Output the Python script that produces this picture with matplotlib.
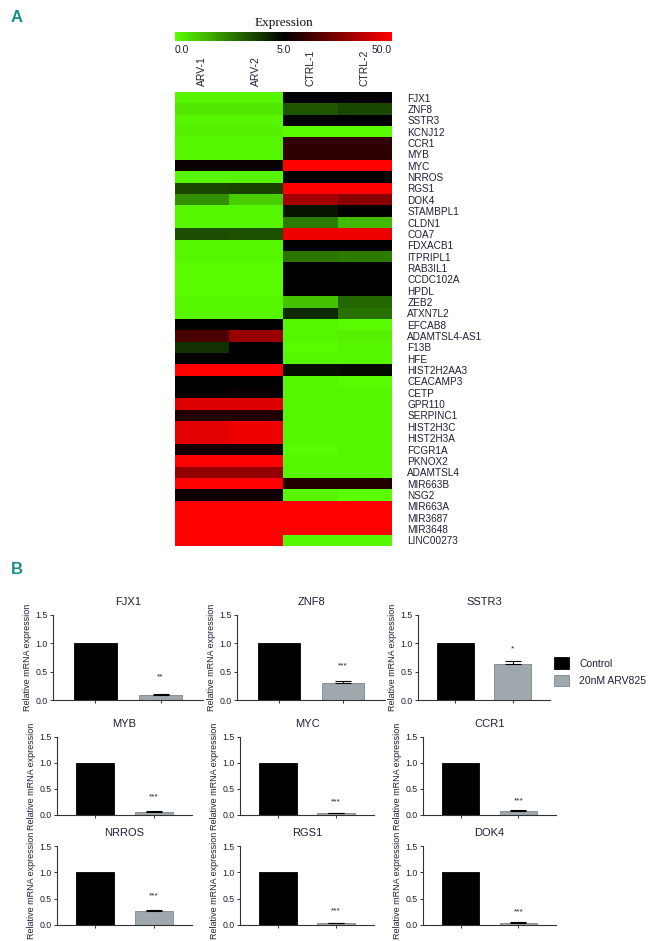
import matplotlib
matplotlib.use("Agg")
import matplotlib.pyplot as plt
import numpy as np
from matplotlib.colors import LinearSegmentedColormap, TwoSlopeNorm

# ---------------- data ----------------
samples = ["ARV-1", "ARV-2", "CTRL-1", "CTRL-2"]
genes = ["FJX1", "ZNF8", "SSTR3", "KCNJ12", "CCR1", "MYB", "MYC", "NRROS", "RGS1", "DOK4",
         "STAMBPL1", "CLDN1", "COA7", "FDXACB1", "ITPRIPL1", "RAB3IL1", "CCDC102A", "HPDL",
         "ZEB2", "ATXN7L2", "EFCAB8", "ADAMTSL4-AS1", "F13B", "HFE", "HIST2H2AA3", "CEACAMP3",
         "CETP", "GPR110", "SERPINC1", "HIST2H3C", "HIST2H3A", "FCGR1A", "PKNOX2", "ADAMTSL4",
         "MIR663B", "NSG2", "MIR663A", "MIR3687", "MIR3648", "LINC00273"]
arv1 = [0.2, 0.5, 0.2, 0.3, 0.2, 0.2, 6.5, 0.2, 3.6, 2.2,
        0.2, 0.2, 3.5, 0.2, 0.2, 0.1, 0.1, 0.1, 0.2, 0.2,
        5.4, 18, 4.0, 5.4, 50, 5.3, 6.0, 44, 11, 45,
        45, 9, 50, 31, 50, 7.5, 50, 50, 50, 50]
arv2 = [0.2, 0.5, 0.2, 0.3, 0.2, 0.2, 6.5, 0.2, 3.7, 1.0,
        0.2, 0.2, 3.4, 0.2, 0.2, 0.1, 0.1, 0.1, 0.2, 0.2,
        5.4, 32, 5.3, 5.4, 50, 5.3, 6.5, 44, 11, 47,
        47, 9, 50, 31, 50, 8.0, 50, 50, 50, 50]
ctrl1 = [5.2, 3.3, 5.3, 0.1, 14, 13, 50, 5.5, 50, 34,
         4.6, 2.6, 47, 5.3, 2.7, 5.7, 5.6, 5.1, 1.2, 4.2,
         0.2, 0.2, 0.1, 0.2, 4.7, 0.2, 0.2, 0.2, 0.2, 0.2,
         0.2, 0.1, 0.2, 0.2, 11, 0.2, 50, 50, 50, 0.2]
ctrl2 = [5.2, 3.6, 5.3, 0.1, 14, 13, 50, 5.5, 50, 29,
         5.1, 1.4, 47, 5.3, 2.6, 5.7, 5.6, 5.1, 3.0, 2.8,
         0.1, 0.3, 0.2, 0.2, 4.8, 0.1, 0.2, 0.2, 0.2, 0.2,
         0.2, 0.2, 0.2, 0.2, 11, 0.0, 50, 50, 50, 0.2]
cbar_ticks = [0.0, 5.0, 50.0]

bar_genes = ["FJX1", "ZNF8", "SSTR3", "MYB", "MYC", "CCR1", "NRROS", "RGS1", "DOK4"]
groups = ["Control", "20nM ARV825"]
control_vals = [1.0, 1.0, 1.0, 1.0, 1.0, 1.0, 1.0, 1.0, 1.0]
treated_vals = [0.08, 0.30, 0.63, 0.06, 0.03, 0.08, 0.26, 0.03, 0.04]
treated_err = [0.02, 0.03, 0.05, 0.015, 0.01, 0.01, 0.02, 0.005, 0.01]
sig_labels = ["**", "***", "*", "***", "***", "***", "***", "***", "***"]
sig_heights = [0.40, 0.60, 0.90, 0.34, 0.25, 0.28, 0.55, 0.26, 0.25]
yticks = [0.0, 0.5, 1.0, 1.5]

# ---------------- figure ----------------
W, H = 659, 941
fig = plt.figure(figsize=(W / 100, H / 100), dpi=100)
txt = "#1f1f35"
plt.rcParams["font.family"] = ["Liberation Sans", "DejaVu Sans"]


def px_axes(x0, y0, x1, y1):
    return fig.add_axes([x0 / W, 1 - y1 / H, (x1 - x0) / W, (y1 - y0) / H])


# panel letters
for lab, (x, y) in {"A": (17, 18), "B": (17, 570)}.items():
    fig.text(x / W, 1 - y / H, lab, color="#1b8c8c", fontsize=12, fontweight="bold",
             family=["Liberation Sans Narrow", "Liberation Sans"], ha="center", va="center")

# heatmap
cmap = LinearSegmentedColormap.from_list("gkr", ["#5aff00", "#000000", "#ff0000"])
norm = TwoSlopeNorm(vmin=0.0, vcenter=5.0, vmax=50.0)
data = np.array([arv1, arv2, ctrl1, ctrl2]).T

hx0, hy0, hx1, hy1 = 175, 92, 392, 546
axh = px_axes(hx0, hy0, hx1, hy1)
im = axh.imshow(data, cmap=cmap, norm=norm, aspect="auto", interpolation="nearest")
axh.set_xticks([])
axh.set_yticks(range(len(genes)))
axh.set_yticklabels(genes, fontsize=7.2, color=txt)
axh.yaxis.tick_right()
axh.tick_params(axis="y", length=0, pad=11)
for s in axh.spines.values():
    s.set_visible(False)

# column labels
for j, s in enumerate(samples):
    xc = hx0 + (j + 0.5) * (hx1 - hx0) / len(samples)
    fig.text(xc / W, 1 - 86 / H, s, rotation=90, ha="center", va="bottom",
             fontsize=7.5, color=txt)

# colorbar
cax = px_axes(175, 32, 392, 41)
cb = fig.colorbar(im, cax=cax, orientation="horizontal", ticks=cbar_ticks, format="%.1f")
cb.outline.set_visible(False)
cax.tick_params(length=0, labelsize=7.5, labelcolor=txt, pad=3)
for lbl, ha in zip(cax.get_xticklabels(), ["left", "center", "right"]):
    lbl.set_horizontalalignment(ha)
cax.set_title("Expression", fontsize=9.5, family=["Liberation Serif", "DejaVu Serif"],
              color="#111111", pad=4)

# bar panels
col_x = [[(53, 203), (237, 385), (418, 550)],
         [(57, 192), (240, 374), (423, 556)],
         [(57, 192), (240, 374), (423, 556)]]
row_y = [(615, 700), (737, 815), (846, 925)]
grey = "#9ea8ad"
handles = None
for i, g in enumerate(bar_genes):
    r, c = divmod(i, 3)
    x0, x1 = col_x[r][c]
    y0, y1 = row_y[r]
    ax = px_axes(x0, y0, x1, y1)
    b1 = ax.bar([0], [control_vals[i]], width=0.65, color="black", edgecolor="black",
                linewidth=0.6)
    b2 = ax.bar([1], [treated_vals[i]], width=0.65, color=grey, edgecolor="#7d878c",
                linewidth=0.6)
    ax.errorbar([1], [treated_vals[i]], yerr=[[0], [treated_err[i]]], fmt="none",
                ecolor="black", elinewidth=0.8, capsize=6, capthick=0.8)
    ax.text(1, sig_heights[i], sig_labels[i], ha="center", va="center", fontsize=6,
            color=txt)
    if handles is None and i == 2:
        handles = [b1, b2]
    ax.set_xlim(-0.65, 1.65)
    ax.set_ylim(0, 1.5)
    ax.set_yticks(yticks)
    ax.set_yticklabels([f"{t:.1f}" for t in yticks])
    ax.set_xticks([0, 1])
    ax.set_xticklabels([])
    ax.tick_params(axis="both", length=2.5, width=0.7, labelsize=6.3, labelcolor=txt,
                   color="#333333", pad=1.5)
    for s in ["top", "right"]:
        ax.spines[s].set_visible(False)
    for s in ["left", "bottom"]:
        ax.spines[s].set_linewidth(0.8)
        ax.spines[s].set_color("#333333")
    ax.set_ylabel("Relative mRNA expression", fontsize=6.5, color=txt, labelpad=2)
    ax.set_title(g, fontsize=8, color=txt, pad=7)

fig.legend(handles, groups, loc="upper left", bbox_to_anchor=(545 / W, 1 - 648 / H),
           frameon=False, fontsize=7.5, handlelength=1.4, handleheight=1.3,
           labelspacing=0.6, handletextpad=1.0, labelcolor=txt)

fig.savefig("out.png", dpi=100, facecolor="white")
